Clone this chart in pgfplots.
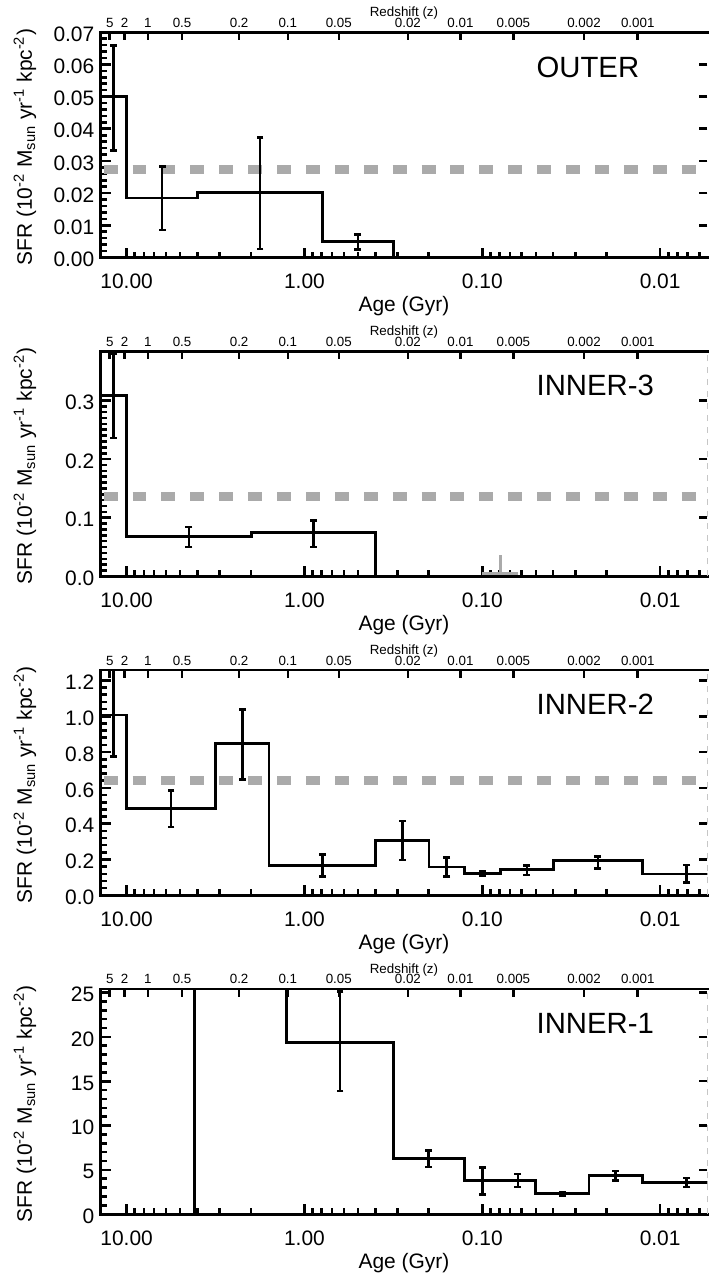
\documentclass[border=0pt]{standalone}
\usepackage{fontspec}
\setmainfont{Liberation Sans}
\usepackage{pgfplots}
\pgfplotsset{compat=1.18}
\definecolor{dgrey}{RGB}{170,170,170}
\newcommand{\tickfont}{\fontsize{10.5}{12}\selectfont}
\newcommand{\zfont}{\fontsize{6.7}{8}\selectfont}
\newcommand{\labfont}{\fontsize{14.7}{17}\selectfont}
\tikzset{
  sfrstep/.style={black, line width=1.4pt, const plot mark left, mark=none},
  sfravg/.style={dgrey, line width=4.5pt, dash pattern=on 7pt off 7.5pt, dash phase=13pt},
  sfrerr/.style={black, line width=1.3pt, mark=-, mark size=1.7pt, mark options={solid, line width=1.3pt}},
}
\begin{document}
\begin{tikzpicture}
\path (0,0) rectangle (355pt,-639.5pt);
% ================= OUTER =================
\begin{axis}[at={(50.5pt,-14.5pt)}, anchor=north west,
  scale only axis, width=304.35pt, height=113pt,
  xmode=log, x dir=reverse, xmin=0.00543, xmax=14.0,
  xtick={10,1,0.1,0.01}, xticklabels={10.00,1.00,0.10,0.01},
  minor xtick={0.006,0.007,0.008,0.009,0.02,0.03,0.04,0.05,0.06,0.07,0.08,0.09,0.2,0.3,0.4,0.5,0.6,0.7,0.8,0.9,2,3,4,5,6,7,8,9},
  xtick pos=left, ytick pos=left, tick align=inside, major tick length=5pt, minor tick length=3pt,
  every tick/.append style={black, line width=1.3pt}, axis line style={draw=none},
  /pgf/number format/assume math mode=true, scaled y ticks=false, unbounded coords=jump,
  tick label style={font=\tickfont},
  xticklabel style={anchor=base, yshift=-15.5pt},
  yticklabel style={anchor=east, xshift=-3pt, yshift=-1pt, inner sep=0pt, /pgf/number format/fixed, /pgf/number format/fixed zerofill, /pgf/number format/precision=2},
  xlabel={Age (Gyr)}, xlabel style={font=\tickfont, at={(axis description cs:0.5,0)}, anchor=base, yshift=-27pt},
  ylabel={SFR (10\textsuperscript{-2} M\textsubscript{sun} yr\textsuperscript{-1} kpc\textsuperscript{-2})},
  ylabel style={font=\tickfont, at={(axis description cs:-0.1134,0.49)}, anchor=base},
  ymin=0, ymax=0.07, ytick={0,0.01,0.02,0.03,0.04,0.05,0.06,0.07}, minor y tick num=4]
\addplot[sfravg] coordinates {(14,0.0272) (0.00543,0.0272)};
\addplot[sfrstep] coordinates {(14.13,0.050) (10,0.0185) (3.981,0.0201) (0.794,0.0049) (0.3162,0) (0.00398,0)};
% error bars: (age, lower) (age, upper)
\addplot[sfrerr] coordinates {(11.89,0.0332) (11.89,0.0659) (11.89,nan)
  (6.31,0.0085) (6.31,0.0282) (6.31,nan)
  (1.778,0.0026) (1.778,0.0372) (1.778,nan)
  (0.501,0.0025) (0.501,0.0072)};
\end{axis}
\begin{axis}[at={(50.5pt,-14.5pt)}, anchor=north west,
  scale only axis, width=304.35pt, height=113pt,
  xmode=log, x dir=reverse, xmin=0.00543, xmax=14.0,
  xtick={12.45,10.26,7.60,4.88,2.33,1.24,0.641,0.262,0.1327,0.0668,0.0268,0.01336},
  xticklabels={5,2,1,0.5,0.2,0.1,0.05,0.02,0.01,0.005,0.002,0.001},
  xminorticks=false, yminorticks=false, scaled y ticks=false,
  xtick pos=right, xticklabel pos=right, ytick pos=right, yticklabels={},
  tick align=inside, major tick length=4pt,
  every tick/.append style={black, line width=1.3pt}, axis line style={draw=none},
  xticklabel style={font=\zfont, anchor=base, yshift=2.5pt},
  xlabel={Redshift (z)}, xlabel style={font=\zfont, at={(axis description cs:0.5,1)}, anchor=base, yshift=8pt},
  clip=false, ymin=0, ymax=0.07, ytick={0.01,0.02,0.03,0.04,0.05,0.06}]
\draw[black, line width=1.4pt, line cap=rect] (axis description cs:1,1) -- (axis description cs:0,1) -- (axis description cs:0,0) -- (axis description cs:1,0);
\node[anchor=base west, font=\labfont, inner sep=0pt] at (axis description cs:0.718,0.801) {OUTER};
\end{axis}
% ================= INNER-3 =================
\begin{axis}[at={(50.5pt,-174.5pt)}, anchor=north west,
  scale only axis, width=304.35pt, height=113pt,
  xmode=log, x dir=reverse, xmin=0.00543, xmax=14.0,
  xtick={10,1,0.1,0.01}, xticklabels={10.00,1.00,0.10,0.01},
  minor xtick={0.006,0.007,0.008,0.009,0.02,0.03,0.04,0.05,0.06,0.07,0.08,0.09,0.2,0.3,0.4,0.5,0.6,0.7,0.8,0.9,2,3,4,5,6,7,8,9},
  xtick pos=left, ytick pos=left, tick align=inside, major tick length=5pt, minor tick length=3pt,
  every tick/.append style={black, line width=1.3pt}, axis line style={draw=none},
  /pgf/number format/assume math mode=true, scaled y ticks=false, unbounded coords=jump,
  tick label style={font=\tickfont},
  xticklabel style={anchor=base, yshift=-15.5pt},
  yticklabel style={anchor=east, xshift=-3pt, yshift=-1pt, inner sep=0pt, /pgf/number format/fixed, /pgf/number format/fixed zerofill, /pgf/number format/precision=1},
  xlabel={Age (Gyr)}, xlabel style={font=\tickfont, at={(axis description cs:0.5,0)}, anchor=base, yshift=-27pt},
  ylabel={SFR (10\textsuperscript{-2} M\textsubscript{sun} yr\textsuperscript{-1} kpc\textsuperscript{-2})},
  ylabel style={font=\tickfont, at={(axis description cs:-0.1134,0.49)}, anchor=base},
  ymin=0, ymax=0.384, ytick={0,0.1,0.2,0.3}, minor y tick num=9]
\addplot[sfravg] coordinates {(14,0.137) (0.00543,0.137)};
\addplot[sfrstep] coordinates {(14.13,0.309) (10,0.0675) (1.995,0.0743) (0.398,0) (0.00398,0)};
\addplot[sfrerr] coordinates {(11.89,0.236) (11.89,0.380) (11.89,nan)
  (4.467,0.050) (4.467,0.084) (4.467,nan)
  (0.891,0.050) (0.891,0.095)};
\end{axis}
\begin{axis}[at={(50.5pt,-174.5pt)}, anchor=north west,
  scale only axis, width=304.35pt, height=113pt,
  xmode=log, x dir=reverse, xmin=0.00543, xmax=14.0,
  xtick={12.45,10.26,7.60,4.88,2.33,1.24,0.641,0.262,0.1327,0.0668,0.0268,0.01336},
  xticklabels={5,2,1,0.5,0.2,0.1,0.05,0.02,0.01,0.005,0.002,0.001},
  xminorticks=false, yminorticks=false, scaled y ticks=false,
  xtick pos=right, xticklabel pos=right, ytick pos=right, yticklabels={},
  tick align=inside, major tick length=4pt,
  every tick/.append style={black, line width=1.3pt}, axis line style={draw=none},
  xticklabel style={font=\zfont, anchor=base, yshift=2.5pt},
  xlabel={Redshift (z)}, xlabel style={font=\zfont, at={(axis description cs:0.5,1)}, anchor=base, yshift=8pt},
  clip=false, ymin=0, ymax=0.384, ytick={0.1,0.2,0.3}]
\draw[black, line width=1.4pt, line cap=rect] (axis description cs:1,1) -- (axis description cs:0,1) -- (axis description cs:0,0) -- (axis description cs:1,0);
\draw[gray!45, dashed, line width=0.4pt] (axis description cs:1,0) -- (axis description cs:1,1);
\addplot[dgrey, line width=1.4pt, mark=none] coordinates {(0.1,0.005) (0.0631,0.005)};
\addplot[dgrey, line width=1.4pt, mark=none] coordinates {(0.0794,0.005) (0.0794,0.036)};
\node[anchor=base west, font=\labfont, inner sep=0pt] at (axis description cs:0.718,0.801) {INNER-3};
\end{axis}
% ================= INNER-2 =================
\begin{axis}[at={(50.5pt,-334.5pt)}, anchor=north west,
  scale only axis, width=304.35pt, height=113pt,
  xmode=log, x dir=reverse, xmin=0.00543, xmax=14.0,
  xtick={10,1,0.1,0.01}, xticklabels={10.00,1.00,0.10,0.01},
  minor xtick={0.006,0.007,0.008,0.009,0.02,0.03,0.04,0.05,0.06,0.07,0.08,0.09,0.2,0.3,0.4,0.5,0.6,0.7,0.8,0.9,2,3,4,5,6,7,8,9},
  xtick pos=left, ytick pos=left, tick align=inside, major tick length=5pt, minor tick length=3pt,
  every tick/.append style={black, line width=1.3pt}, axis line style={draw=none},
  /pgf/number format/assume math mode=true, scaled y ticks=false, unbounded coords=jump,
  tick label style={font=\tickfont},
  xticklabel style={anchor=base, yshift=-15.5pt},
  yticklabel style={anchor=east, xshift=-3pt, yshift=-1pt, inner sep=0pt, /pgf/number format/fixed, /pgf/number format/fixed zerofill, /pgf/number format/precision=1},
  xlabel={Age (Gyr)}, xlabel style={font=\tickfont, at={(axis description cs:0.5,0)}, anchor=base, yshift=-27pt},
  ylabel={SFR (10\textsuperscript{-2} M\textsubscript{sun} yr\textsuperscript{-1} kpc\textsuperscript{-2})},
  ylabel style={font=\tickfont, at={(axis description cs:-0.1134,0.49)}, anchor=base},
  ymin=0, ymax=1.258, ytick={0,0.2,0.4,0.6,0.8,1.0,1.2}, minor y tick num=4]
\addplot[sfravg] coordinates {(14,0.643) (0.00543,0.643)};
\addplot[sfrstep] coordinates {(14.13,1.007) (10,0.484) (3.162,0.846) (1.585,0.168) (0.398,0.308) (0.1995,0.158) (0.1259,0.121) (0.0794,0.143) (0.0398,0.193) (0.01259,0.119) (0.00398,0.119)};
\addplot[sfrerr] coordinates {(11.89,0.775) (11.89,1.40) (11.89,nan)
  (5.623,0.382) (5.623,0.586) (5.623,nan)
  (2.239,0.647) (2.239,1.038) (2.239,nan)
  (0.794,0.105) (0.794,0.229) (0.794,nan)
  (0.2818,0.197) (0.2818,0.416) (0.2818,nan)
  (0.1585,0.105) (0.1585,0.210) (0.1585,nan)
  (0.1,0.108) (0.1,0.132) (0.1,nan)
  (0.0562,0.114) (0.0562,0.166) (0.0562,nan)
  (0.0224,0.151) (0.0224,0.216) (0.0224,nan)
  (0.00708,0.071) (0.00708,0.169)};
\end{axis}
\begin{axis}[at={(50.5pt,-334.5pt)}, anchor=north west,
  scale only axis, width=304.35pt, height=113pt,
  xmode=log, x dir=reverse, xmin=0.00543, xmax=14.0,
  xtick={12.45,10.26,7.60,4.88,2.33,1.24,0.641,0.262,0.1327,0.0668,0.0268,0.01336},
  xticklabels={5,2,1,0.5,0.2,0.1,0.05,0.02,0.01,0.005,0.002,0.001},
  xminorticks=false, yminorticks=false, scaled y ticks=false,
  xtick pos=right, xticklabel pos=right, ytick pos=right, yticklabels={},
  tick align=inside, major tick length=4pt,
  every tick/.append style={black, line width=1.3pt}, axis line style={draw=none},
  xticklabel style={font=\zfont, anchor=base, yshift=2.5pt},
  xlabel={Redshift (z)}, xlabel style={font=\zfont, at={(axis description cs:0.5,1)}, anchor=base, yshift=8pt},
  clip=false, ymin=0, ymax=1.258, ytick={0.2,0.4,0.6,0.8,1.0,1.2}]
\draw[black, line width=1.4pt, line cap=rect] (axis description cs:1,1) -- (axis description cs:0,1) -- (axis description cs:0,0) -- (axis description cs:1,0);
\draw[gray!45, dashed, line width=0.4pt] (axis description cs:1,0) -- (axis description cs:1,1);
\node[anchor=base west, font=\labfont, inner sep=0pt] at (axis description cs:0.718,0.801) {INNER-2};
\end{axis}
% ================= INNER-1 =================
\begin{axis}[at={(50.5pt,-494.5pt)}, anchor=north west,
  scale only axis, width=304.35pt, height=113pt,
  xmode=log, x dir=reverse, xmin=0.00543, xmax=14.0,
  xtick={10,1,0.1,0.01}, xticklabels={10.00,1.00,0.10,0.01},
  minor xtick={0.006,0.007,0.008,0.009,0.02,0.03,0.04,0.05,0.06,0.07,0.08,0.09,0.2,0.3,0.4,0.5,0.6,0.7,0.8,0.9,2,3,4,5,6,7,8,9},
  xtick pos=left, ytick pos=left, tick align=inside, major tick length=5pt, minor tick length=3pt,
  every tick/.append style={black, line width=1.3pt}, axis line style={draw=none},
  /pgf/number format/assume math mode=true, scaled y ticks=false, unbounded coords=jump,
  tick label style={font=\tickfont},
  xticklabel style={anchor=base, yshift=-15.5pt},
  yticklabel style={anchor=east, xshift=-3pt, yshift=-1pt, inner sep=0pt},
  xlabel={Age (Gyr)}, xlabel style={font=\tickfont, at={(axis description cs:0.5,0)}, anchor=base, yshift=-27pt},
  ylabel={SFR (10\textsuperscript{-2} M\textsubscript{sun} yr\textsuperscript{-1} kpc\textsuperscript{-2})},
  ylabel style={font=\tickfont, at={(axis description cs:-0.1134,0.49)}, anchor=base},
  ymin=0, ymax=25.4, ytick={0,5,10,15,20,25}, minor y tick num=4]
\addplot[sfrstep] coordinates {(14.13,0) (4.17,60) (1.259,19.4) (0.3162,6.3) (0.1259,3.8) (0.0794,3.8) (0.0501,2.3) (0.0251,4.35) (0.01259,3.6) (0.00398,3.6)};
\addplot[sfrerr] coordinates {(0.631,13.9) (0.631,25.1) (0.631,nan)
  (0.2,5.31) (0.2,7.17) (0.2,nan)
  (0.1,2.2) (0.1,5.3) (0.1,nan)
  (0.0631,3.06) (0.0631,4.55) (0.0631,nan)
  (0.0355,2.1) (0.0355,2.5) (0.0355,nan)
  (0.0178,3.81) (0.0178,4.86) (0.0178,nan)
  (0.00708,3.06) (0.00708,4.1)};
\end{axis}
\begin{axis}[at={(50.5pt,-494.5pt)}, anchor=north west,
  scale only axis, width=304.35pt, height=113pt,
  xmode=log, x dir=reverse, xmin=0.00543, xmax=14.0,
  xtick={12.45,10.26,7.60,4.88,2.33,1.24,0.641,0.262,0.1327,0.0668,0.0268,0.01336},
  xticklabels={5,2,1,0.5,0.2,0.1,0.05,0.02,0.01,0.005,0.002,0.001},
  xminorticks=false, yminorticks=false, scaled y ticks=false,
  xtick pos=right, xticklabel pos=right, ytick pos=right, yticklabels={},
  tick align=inside, major tick length=4pt,
  every tick/.append style={black, line width=1.3pt}, axis line style={draw=none},
  xticklabel style={font=\zfont, anchor=base, yshift=2.5pt},
  xlabel={Redshift (z)}, xlabel style={font=\zfont, at={(axis description cs:0.5,1)}, anchor=base, yshift=8pt},
  clip=false, ymin=0, ymax=25.4, ytick={5,10,15,20,25}]
\draw[black, line width=1.4pt, line cap=rect] (axis description cs:1,1) -- (axis description cs:0,1) -- (axis description cs:0,0) -- (axis description cs:1,0);
\draw[gray!45, dashed, line width=0.4pt] (axis description cs:1,0) -- (axis description cs:1,1);
\node[anchor=base west, font=\labfont, inner sep=0pt] at (axis description cs:0.718,0.801) {INNER-1};
\end{axis}
\end{tikzpicture}
\end{document}
